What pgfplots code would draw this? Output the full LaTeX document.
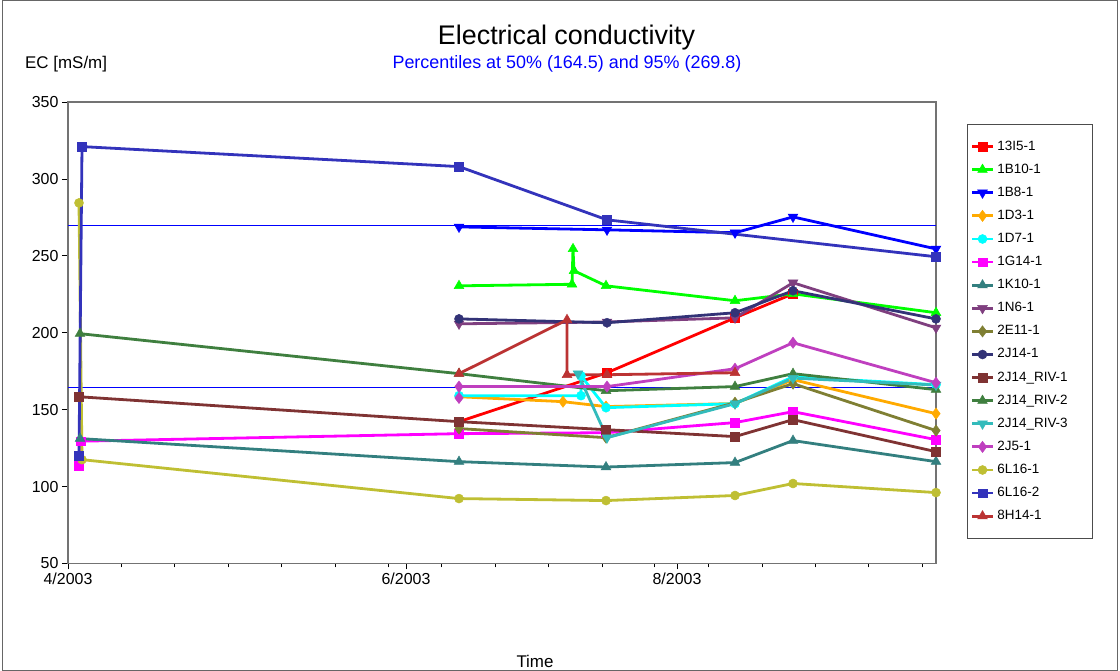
\documentclass[border=0pt]{standalone}
\usepackage{pgfplots}
\pgfplotsset{compat=1.18}
\usepackage{fontspec}
\setmainfont{Liberation Sans}
\definecolor{cA}{HTML}{FF0000}
\definecolor{cB}{HTML}{00FF00}
\definecolor{cC}{HTML}{0000FF}
\definecolor{cD}{HTML}{FFAA00}
\definecolor{cE}{HTML}{00FFFF}
\definecolor{cF}{HTML}{FF00FF}
\definecolor{cG}{HTML}{337F7F}
\definecolor{cH}{HTML}{7F3F7F}
\definecolor{cI}{HTML}{7F7F33}
\definecolor{cJ}{HTML}{333377}
\definecolor{cK}{HTML}{7F3333}
\definecolor{cL}{HTML}{3F7F3F}
\definecolor{cM}{HTML}{33BBBB}
\definecolor{cN}{HTML}{BF3FBF}
\definecolor{cO}{HTML}{BFBF33}
\definecolor{cP}{HTML}{3333BB}
\definecolor{cQ}{HTML}{BB3333}
\newcommand{\lbox}[1]{\makebox[89bp][l]{\fontsize{13.5}{15}\selectfont #1}}
\pgfplotsset{
  sq/.style={line width=2.8bp, mark=square*, mark size=4.3bp, mark options={solid, line width=0.5bp}},
  tu/.style={line width=2.8bp, mark=triangle*, mark size=5.6bp, mark options={solid, line width=0.5bp}},
  td/.style={line width=2.8bp, mark=triangle*, mark size=5.6bp, mark options={solid, line width=0.5bp, rotate=180}},
  ci/.style={line width=2.8bp, mark=*, mark size=4.5bp, mark options={solid, line width=0.5bp}},
  di/.style={line width=2.8bp, mark=diamond*, mark size=5.6bp, mark options={solid, line width=0.5bp}},
}
\begin{document}
\begin{tikzpicture}
\path[use as bounding box] (0bp,0bp) rectangle (1120bp,671bp);
\draw[black!60, line width=1bp] (2.5bp,0.5bp) rectangle (1117.5bp,670.5bp);
\node[anchor=base, inner sep=0pt, font=\fontsize{27}{30}\selectfont] at (566.5bp,626bp) {Electrical conductivity};
\node[anchor=base, inner sep=0pt, font=\fontsize{18}{21}\selectfont, text=cC] at (567bp,602bp) {Percentiles at 50\% (164.5) and 95\% (269.8)};
\node[anchor=base west, inner sep=0pt, font=\fontsize{17}{20}\selectfont] at (25bp,602bp) {EC [mS/m]};
\node[anchor=base, inner sep=0pt, font=\fontsize{17}{20}\selectfont] at (535bp,4bp) {Time};
\begin{axis}[
  at={(68bp,107.5bp)}, anchor=south west,
  scale only axis, width=868bp, height=461.5bp,
  xmin=68, xmax=936, ymin=50, ymax=350,
  xtick={68,406,677}, xticklabels={4/2003,6/2003,8/2003},
  minor xtick={121,174,228,281,335,388,441,495,548,602,654,708,762,815,868,922},
  ytick={50,100,150,200,250,300,350},
  tick align=outside, tick pos=left,
  major tick length=6bp, minor tick length=4bp,
  every tick/.style={black, line width=0.8bp},
  axis line style={draw=black!55, line width=1.2bp},
  ticklabel style={font=\fontsize{16}{19}\selectfont},
  /pgf/number format/assume math mode=true,
  clip=false,
  legend cell align=left,
  legend style={at={(1,1)}, anchor=north west, xshift=31bp, yshift=-22bp,
    draw=black!70, line width=1.2bp, inner xsep=3bp, inner ysep=15.5bp,
    row sep=10.1bp, column sep=0pt,
    nodes={inner xsep=3bp, inner ysep=0pt, text height=10bp, text depth=3bp}},
  legend image code/.code={\draw[mark repeat=2, mark phase=2] plot coordinates {(0bp,0bp)(10.5bp,0bp)(21bp,0bp)};},
]
\addplot[draw=cC, line width=1.4bp, forget plot] coordinates {(68,164.5)(936,164.5)};
\addplot[draw=cC, line width=1.4bp, forget plot] coordinates {(68,269.8)(936,269.8)};
% 13I5-1
\addplot[cA, sq] coordinates {(459,142.2)(607,174)(735,209.7)(793,225.3)};
% 1B10-1
\addplot[cB, tu] coordinates {(459,230.5)(572,231.5)(573,254.5)(574,240.3)(606,230.5)(735,220.8)(793,225.3)(936,213)};
% 1B8-1
\addplot[cC, td] coordinates {(459,268.8)(607,266.9)(735,265)(793,275.3)(936,254.5)};
% 1D3-1
\addplot[cD, di] coordinates {(459,158.4)(563,155.2)(606,152)(735,154)(793,169.5)(936,147.4)};
% 1D7-1
\addplot[cE, ci] coordinates {(459,159.1)(581,159.1)(581,172)(606,151.3)(735,153.9)(793,171.4)(936,166.2)};
% 1G14-1
\addplot[cF, sq] coordinates {(79,113.5)(81,129.5)(459,134.4)(606,135)(735,141.6)(793,148.7)(936,130.5)};
% 1K10-1
\addplot[cG, tu] coordinates {(80,131.2)(459,116.2)(606,112.7)(735,115.6)(793,129.9)(936,116.2)};
% 1N6-1
\addplot[cH, td] coordinates {(459,205.8)(607,207)(735,209.7)(793,232.5)(936,203.2)};
% 2E11-1
\addplot[cI, di] coordinates {(459,137.7)(606,131.8)(735,154.5)(793,166.9)(936,136.4)};
% 2J14-1
\addplot[cJ, ci] coordinates {(459,209)(607,206.5)(735,213)(793,227.3)(936,209)};
% 2J14_RIV-1
\addplot[cK, sq] coordinates {(79,158.4)(459,142.2)(606,137)(735,132.5)(793,143.5)(936,122.7)};
% 2J14_RIV-2
\addplot[cL, tu] coordinates {(80,199.4)(459,173.4)(606,162.3)(735,165)(793,173.4)(936,163)};
% 2J14_RIV-3
\addplot[cM, td] coordinates {(578,173.4)(607,131.8)(735,153.9)(793,170.5)(936,166)};
% 2J5-1
\addplot[cN, di] coordinates {(459,157.6)(459,165)(607,165)(735,176.6)(793,193.5)(936,167.5)};
% 6L16-1
\addplot[cO, ci] coordinates {(79,284.4)(82,117.5)(459,92.2)(606,90.9)(735,94.2)(793,102)(936,96.1)};
% 6L16-2
\addplot[cP, sq] coordinates {(79,120)(82,321)(459,308)(607,273.4)(936,249.4)};
% 8H14-1
\addplot[cQ, tu] coordinates {(459,173.4)(567,208.4)(567,172.7)(607,172.7)(735,174)};
\legend{\lbox{13I5-1},\lbox{1B10-1},\lbox{1B8-1},\lbox{1D3-1},\lbox{1D7-1},\lbox{1G14-1},\lbox{1K10-1},\lbox{1N6-1},\lbox{2E11-1},\lbox{2J14-1},\lbox{2J14\_RIV-1},\lbox{2J14\_RIV-2},\lbox{2J14\_RIV-3},\lbox{2J5-1},\lbox{6L16-1},\lbox{6L16-2},\lbox{8H14-1}}
\end{axis}
\end{tikzpicture}
\end{document}
